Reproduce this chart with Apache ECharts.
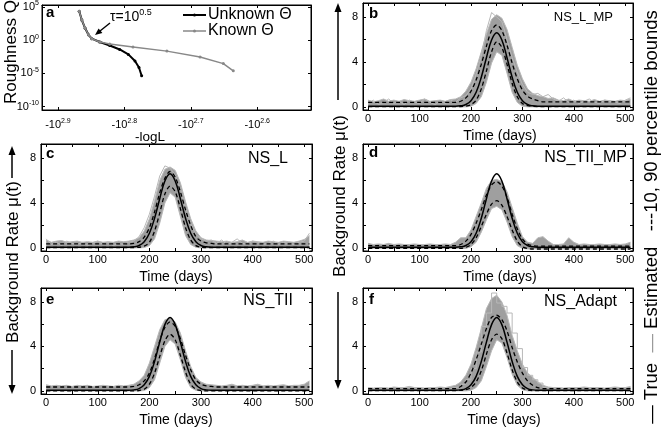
<!DOCTYPE html>
<html><head><meta charset="utf-8">
<script src="https://cdn.jsdelivr.net/npm/echarts@6/dist/echarts.min.js"></script>
<style>html,body{margin:0;padding:0;background:#fff}#c{width:662px;height:431px}</style>
</head><body><div id="c"></div>
<script>
// ---------- Panel a data (x: exponent of -logL, y: log10 roughness Q) ----------
const unkE   = [2.868,2.864,2.859,2.854,2.849,2.837,2.822,2.807,2.794,2.784,2.778,2.774];
const unkQ   = [4.37,3.04,1.8,0.82,0.23,-0.27,-0.8,-1.39,-2.13,-3.12,-4.11,-5.34];
const knownE = [2.868,2.864,2.859,2.854,2.849,2.837,2.822,2.787,2.736,2.686,2.651,2.636];
const knownQ = [4.37,3.04,1.8,0.82,0.23,-0.27,-0.56,-1.01,-1.64,-2.53,-3.52,-4.6];
const aXTicks = [2.6,2.7,2.8,2.9];
const aYTicks = [-10,-5,0,5];

// ---------- Time panels ----------
const days = [0,10,20,30,40,50,60,70,80,90,
  100,110,120,130,140,150,160,170,180,190,
  200,210,220,230,240,250,260,270,280,290,
  300,310,320,330,340,350,360,370,380,390,
  400,410,420,430,440,450,460,470,480,490,
  500,510];
const timeTicks = [0,50,100,150,200,250,300,350,400,450,500];
const timeLabels = [0,100,200,300,400,500];
const rateTicks = [0,2,4,6,8];
const rateLabels = [0,4,8];

const trueR = [0.05,0.05,0.05,0.05,0.05,0.05,0.05,0.05,0.05,0.05,
  0.05,0.05,0.05,0.05,0.05,0.05,0.05,0.05,0.09,0.21,
  0.55,1.3,2.64,4.38,5.96,6.6,5.96,4.38,2.64,1.3,
  0.55,0.21,0.09,0.05,0.05,0.05,0.05,0.05,0.05,0.05,
  0.05,0.05,0.05,0.05,0.05,0.05,0.05,0.05,0.05,0.05,
  0.05,0.05];
const trueL = [0.05,0.05,0.05,0.05,0.05,0.05,0.05,0.05,0.05,0.05,
  0.05,0.05,0.05,0.05,0.05,0.05,0.05,0.09,0.21,0.55,
  1.3,2.64,4.38,5.96,6.6,5.96,4.38,2.64,1.3,0.55,
  0.21,0.09,0.05,0.05,0.05,0.05,0.05,0.05,0.05,0.05,
  0.05,0.05,0.05,0.05,0.05,0.05,0.05,0.05,0.05,0.05,
  0.05,0.05];

// b NS_L_MP
const bHi = [0.4,0.4,0.4,0.4,0.4,0.4,0.4,0.4,0.4,0.4,
  0.4,0.4,0.4,0.4,0.4,0.4,0.4,0.4,0.5,0.8,
  1.4,2.4,3.8,5.4,6.8,7.3,6.8,5.5,3.9,2.5,
  1.5,0.95,0.7,0.55,0.45,0.45,0.45,0.45,0.45,0.45,
  0.45,0.45,0.45,0.45,0.45,0.45,0.45,0.45,0.45,0.45,
  0.45,0.45];
const bLo = [0.02,0.02,0.02,0.02,0.02,0.02,0.02,0.02,0.02,0.02,
  0.02,0.02,0.02,0.02,0.02,0.02,0.02,0.02,0.03,0.06,
  0.2,0.6,1.6,3.2,4.9,5.8,5.3,3.8,2.1,0.9,
  0.3,0.1,0.04,0.02,0.02,0.02,0.02,0.02,0.02,0.02,
  0.02,0.02,0.02,0.02,0.02,0.02,0.02,0.02,0.02,0.02,
  0.02,0.02];
const bBandHi = [0.6,0.45,0.55,0.7,0.5,0.6,0.5,0.65,0.55,0.5,
  0.6,0.7,0.5,0.55,0.6,0.5,0.65,0.7,0.9,1.4,
  2.2,3.4,4.9,6.5,7.8,8.2,7.9,6.9,5.3,3.7,
  2.5,1.6,1.2,1.0,0.9,0.75,0.8,0.6,0.55,0.7,
  0.5,0.6,0.55,0.5,0.65,0.5,0.6,0.55,0.5,0.6,
  0.55,0.7];
const bBandLo = [0,0,0,0,0,0,0,0,0,0,
  0,0,0,0,0,0,0,0,0,0,
  0.05,0.3,0.9,2.2,3.9,4.9,4.6,3.0,1.3,0.4,
  0.05,0,0,0,0,0,0,0,0,0,
  0,0,0,0,0,0,0,0,0,0,
  0,0];
const bOut = [0.3,0.6,0.2,0.4,0.7,0.3,0.5,0.2,0.6,0.4,
  0.3,0.7,0.4,0.2,0.5,0.3,0.6,0.4,0.8,1.0,
  1.6,2.9,4.5,6.8,8.4,8.0,7.6,6.0,4.4,3.1,
  2.0,1.3,1.1,1.2,0.9,1.1,0.7,0.5,0.8,0.4,
  0.6,0.3,0.5,0.7,0.4,0.3,0.6,0.5,0.4,0.3,
  0.6,0.8];

// c NS_L
const cHi = [0.35,0.35,0.35,0.35,0.35,0.35,0.35,0.35,0.35,0.35,
  0.35,0.35,0.35,0.35,0.35,0.35,0.35,0.4,0.55,0.95,
  1.8,3.2,4.9,6.2,6.8,6.3,5.0,3.4,2.0,1.0,
  0.6,0.45,0.4,0.35,0.35,0.35,0.35,0.35,0.35,0.35,
  0.35,0.35,0.35,0.35,0.35,0.35,0.35,0.35,0.35,0.35,
  0.35,0.35];
const cLo = [0.03,0.03,0.03,0.03,0.03,0.03,0.03,0.03,0.03,0.03,
  0.03,0.03,0.03,0.03,0.03,0.03,0.03,0.03,0.05,0.15,
  0.5,1.5,3.1,4.8,5.5,5.0,3.5,1.8,0.7,0.2,
  0.06,0.03,0.03,0.03,0.03,0.03,0.03,0.03,0.03,0.03,
  0.03,0.03,0.03,0.03,0.03,0.03,0.03,0.03,0.03,0.03,
  0.03,0.03];
const cBandHi = [0.7,0.5,0.6,0.65,0.5,0.55,0.6,0.5,0.55,0.5,
  0.6,0.5,0.55,0.5,0.6,0.55,0.6,0.7,0.9,1.5,
  2.6,4.2,6.0,7.0,7.2,6.9,5.8,4.1,2.6,1.5,
  0.9,0.7,0.65,0.6,0.55,0.6,0.5,0.55,0.7,0.5,
  0.6,0.55,0.5,0.6,0.55,0.5,0.6,0.55,0.5,0.6,
  0.75,1.1];
const cBandLo = [0,0,0,0,0,0,0,0,0,0,
  0,0,0,0,0,0,0,0,0,0.03,
  0.2,0.8,2.2,4.0,4.9,4.5,2.8,1.1,0.3,0.05,
  0,0,0,0,0,0,0,0,0,0,
  0,0,0,0,0,0,0,0,0,0,
  0,0];
const cOut = [0.8,0.3,0.5,0.2,0.6,0.4,0.3,0.5,0.2,0.4,
  0.6,0.3,0.5,0.2,0.4,0.3,0.5,0.6,1.0,1.8,
  3.0,4.6,6.4,7.3,7.1,6.5,5.3,3.6,2.2,1.2,
  0.8,0.6,0.7,0.4,0.7,0.3,0.5,0.8,0.4,0.3,
  0.6,0.5,0.3,0.4,0.6,0.3,0.5,0.4,0.3,0.5,
  0.6,1.3];

// d NS_TII_MP
const dHi = [0.2,0.2,0.2,0.2,0.2,0.2,0.2,0.2,0.2,0.2,
  0.2,0.2,0.2,0.2,0.2,0.2,0.2,0.2,0.3,0.6,
  1.2,2.2,3.4,4.7,5.6,5.9,5.5,4.5,3.0,1.7,
  0.8,0.35,0.2,0.15,0.15,0.15,0.15,0.15,0.15,0.15,
  0.15,0.15,0.15,0.15,0.15,0.15,0.15,0.15,0.15,0.15,
  0.15,0.15];
const dLo = [-0.05,-0.05,-0.05,-0.05,-0.05,-0.05,-0.05,-0.05,-0.05,-0.05,
  -0.05,-0.05,-0.05,-0.05,-0.05,-0.05,-0.05,-0.05,-0.05,0.05,
  0.3,0.9,1.9,3.0,3.9,4.2,3.8,2.8,1.6,0.6,
  0.1,-0.05,-0.1,-0.1,-0.1,-0.1,-0.1,-0.1,-0.1,-0.1,
  -0.1,-0.1,-0.1,-0.1,-0.1,-0.1,-0.1,-0.1,-0.1,-0.1,
  -0.1,-0.1];
const dBandHi = [0.4,0.3,0.35,0.3,0.4,0.3,0.35,0.3,0.3,0.35,
  0.3,0.3,0.35,0.3,0.3,0.35,0.3,0.5,0.9,0.9,
  1.6,2.8,4.0,5.3,6.0,6.1,5.9,5.0,3.6,2.2,
  1.0,0.5,0.4,0.9,1.0,0.6,0.3,0.3,0.35,0.9,
  0.5,0.3,0.35,0.3,0.3,0.35,0.3,0.3,0.35,0.3,
  0.35,0.5];
const dBandLo = [-0.05,-0.05,-0.05,-0.05,-0.05,-0.05,-0.05,-0.05,-0.05,-0.05,
  -0.05,-0.05,-0.05,-0.05,-0.05,-0.05,-0.05,-0.05,-0.05,-0.05,
  0.1,0.5,1.4,2.5,3.5,3.7,3.4,2.3,1.0,0.2,
  -0.05,-0.1,-0.1,-0.1,-0.1,-0.1,-0.1,-0.1,-0.1,-0.1,
  -0.1,-0.1,-0.1,-0.1,-0.1,-0.1,-0.1,-0.1,-0.1,-0.1,
  -0.1,-0.1];

// e NS_TII
const eHi = [0.35,0.35,0.35,0.35,0.35,0.35,0.35,0.35,0.35,0.35,
  0.35,0.35,0.35,0.35,0.35,0.35,0.35,0.4,0.55,0.9,
  1.6,2.9,4.5,5.7,6.2,5.8,4.7,3.2,1.9,1.0,
  0.6,0.45,0.4,0.35,0.35,0.35,0.35,0.35,0.35,0.35,
  0.35,0.35,0.35,0.35,0.35,0.35,0.35,0.35,0.35,0.35,
  0.35,0.35];
const eLo = [0,0,0,0,0,0,0,0,0,0,
  0,0,0,0,0,0,0,0,0.03,0.15,
  0.6,1.6,3.1,4.5,5.1,4.6,3.2,1.7,0.6,0.15,
  0.03,0,0,0,0,0,0,0,0,0,
  0,0,0,0,0,0,0,0,0,0,
  0,0];
const eBandHi = [0.55,0.45,0.5,0.45,0.5,0.4,0.5,0.45,0.5,0.4,
  0.45,0.5,0.45,0.4,0.5,0.45,0.5,0.6,0.9,1.4,
  2.5,4.0,5.5,6.4,6.5,6.2,5.2,3.6,2.2,1.2,
  0.8,0.6,0.55,0.5,0.45,0.5,0.6,0.45,0.5,0.45,
  0.5,0.6,0.45,0.5,0.45,0.5,0.55,0.45,0.5,0.5,
  0.6,0.9];
const eBandLo = [0,0,0,0,0,0,0,0,0,0,
  0,0,0,0,0,0,0,0,0,0.03,
  0.3,1.0,2.5,4.0,4.6,4.2,2.8,1.2,0.3,0.05,
  0,0,0,0,0,0,0,0,0,0,
  0,0,0,0,0,0,0,0,0,0,
  0,0];

// f NS_Adapt
const fHi = [0.2,0.2,0.2,0.2,0.2,0.2,0.2,0.2,0.2,0.2,
  0.2,0.2,0.2,0.2,0.2,0.2,0.2,0.2,0.4,0.8,
  1.6,2.8,4.2,5.6,6.6,6.8,6.4,5.4,3.9,2.6,
  1.6,0.9,0.5,0.3,0.2,0.2,0.2,0.2,0.2,0.2,
  0.2,0.2,0.2,0.2,0.2,0.2,0.2,0.2,0.2,0.2,
  0.2,0.2];
const fLo = [0.03,0.03,0.03,0.03,0.03,0.03,0.03,0.03,0.03,0.03,
  0.03,0.03,0.03,0.03,0.03,0.03,0.03,0.03,0.05,0.1,
  0.3,0.8,1.8,3.3,4.6,5.1,4.7,3.4,1.9,0.8,
  0.25,0.08,0.03,0.03,0.03,0.03,0.03,0.03,0.03,0.03,
  0.03,0.03,0.03,0.03,0.03,0.03,0.03,0.03,0.03,0.03,
  0.03,0.03];
const fBandHi = [0.3,0.25,0.3,0.3,0.25,0.35,0.3,0.3,0.4,0.3,
  0.3,0.25,0.3,0.3,0.35,0.3,0.4,0.5,0.8,1.4,
  2.4,3.9,5.6,7.4,8.3,8.6,8.0,6.8,5.0,3.6,
  2.4,1.6,1.2,0.8,0.5,0.35,0.3,0.3,0.25,0.3,
  0.3,0.3,0.35,0.3,0.3,0.3,0.25,0.3,0.35,0.3,
  0.3,0.4];
const fBandLo = [0,0,0,0,0,0,0,0,0,0,
  0,0,0,0,0,0,0,0,0,0,
  0.05,0.3,0.9,2.2,3.6,4.6,4.3,3.0,1.5,0.5,
  0.1,0,0,0,0,0,0,0,0,0,
  0,0,0,0,0,0,0,0,0,0,
  0,0];
const fOut = [0.2,0.1,0.2,0.15,0.1,0.2,0.1,0.3,0.2,0.1,
  0.2,0.1,0.15,0.2,0.1,0.2,0.3,0.4,0.6,1.0,
  2.0,3.5,5.8,7.0,8.8,7.9,7.6,7.0,5.2,3.8,
  2.1,1.4,1.0,0.7,0.3,0.2,0.1,0.2,0.15,0.1,
  0.2,0.1,0.2,0.15,0.1,0.2,0.1,0.2,0.1,0.15,
  0.2,0.3];

// ---------- Build chart ----------
const FONT = '"Liberation Sans", Arial, Helvetica, sans-serif';
const BAND = '#9f9f9f', OUT = '#b8b8b8';

const grids = [
  {left:42, top:3, width:269, height:107},
  {left:363, top:3, width:270, height:107},
  {left:41, top:144, width:271, height:107},
  {left:363, top:144, width:270, height:107},
  {left:41, top:288, width:271, height:106},
  {left:363, top:288, width:270, height:106}
].map(g => Object.assign({show:true, borderColor:'#000', borderWidth:1, backgroundColor:'#fff', containLabel:false}, g));

const pair = (xs, ys) => xs.map((x, i) => [x, ys[i]]);

const baseLine = {show:true, onZero:false, lineStyle:{color:'#000', width:1}};
const xAxes = [], yAxes = [];

const supRich = {
  b:{fontSize:11, fontFamily:FONT, color:'#000', lineHeight:14},
  s:{fontSize:7, fontFamily:FONT, color:'#000', verticalAlign:'top', lineHeight:14}
};
xAxes.push({gridIndex:0, type:'value', inverse:true, min:2.519, max:2.924, position:'bottom', z:10,
  axisLine:baseLine, splitLine:{show:false},
  axisTick:{inside:true, length:3, customValues:aXTicks, lineStyle:{color:'#000'}},
  axisLabel:{customValues:aXTicks, margin:8, formatter:v => '{b|-10}{s|' + v.toFixed(1) + '}', rich:supRich}});
xAxes.push({gridIndex:0, type:'value', inverse:true, min:2.519, max:2.924, position:'top', z:10,
  axisLine:baseLine, splitLine:{show:false},
  axisTick:{inside:true, length:3, customValues:aXTicks, lineStyle:{color:'#000'}},
  axisLabel:{show:false}});
yAxes.push({gridIndex:0, type:'value', min:-10.5, max:5.3, position:'left', z:10,
  axisLine:baseLine, splitLine:{show:false},
  axisTick:{inside:true, length:3, customValues:aYTicks, lineStyle:{color:'#000'}},
  axisLabel:{customValues:aYTicks, margin:3, formatter:v => '{b|10}{s|' + v + '}', rich:supRich}});
yAxes.push({gridIndex:0, type:'value', min:-10.5, max:5.3, position:'right', z:10,
  axisLine:baseLine, splitLine:{show:false},
  axisTick:{inside:true, length:3, customValues:aYTicks, lineStyle:{color:'#000'}},
  axisLabel:{show:false}});

for (let g = 1; g <= 5; g++) {
  ['bottom','top'].forEach(pos => xAxes.push({gridIndex:g, type:'value', min:-10, max:515, position:pos, z:10,
    axisLine:baseLine, splitLine:{show:false},
    axisTick:{inside:true, length:3, customValues:timeTicks, lineStyle:{color:'#000'}},
    axisLabel:{show:pos === 'bottom', customValues:timeLabels, margin:3, fontSize:11, fontFamily:FONT, color:'#000'}}));
  ['left','right'].forEach(pos => yAxes.push({gridIndex:g, type:'value', min:-0.28, max:9.25, position:pos, z:10,
    axisLine:baseLine, splitLine:{show:false},
    axisTick:{inside:true, length:3, customValues:rateTicks, lineStyle:{color:'#000'}},
    axisLabel:{show:pos === 'left', customValues:rateLabels, margin:5, fontSize:11, fontFamily:FONT, color:'#000'}}));
}

const series = [];
series.push({type:'line', xAxisIndex:0, yAxisIndex:0, data:pair(unkE, unkQ), symbol:'circle', symbolSize:3,
  showAllSymbol:true, itemStyle:{color:'#000'}, lineStyle:{color:'#000', width:2}, z:3});
series.push({type:'line', xAxisIndex:0, yAxisIndex:0, data:pair(knownE, knownQ), symbol:'circle', symbolSize:3,
  showAllSymbol:true, itemStyle:{color:'#888'}, lineStyle:{color:'#888', width:1.5}, z:4});

const panels = [
  {g:1, tr:trueR, hi:bHi, lo:bLo, bh:bBandHi, bl:bBandLo, out:bOut},
  {g:2, tr:trueL, hi:cHi, lo:cLo, bh:cBandHi, bl:cBandLo, out:cOut},
  {g:3, tr:trueR, hi:dHi, lo:dLo, bh:dBandHi, bl:dBandLo, out:null},
  {g:4, tr:trueL, hi:eHi, lo:eLo, bh:eBandHi, bl:eBandLo, out:null},
  {g:5, tr:trueR, hi:fHi, lo:fLo, bh:fBandHi, bl:fBandLo, out:fOut, outStep:'end'}
];
panels.forEach(p => {
  const xi = p.g * 2, yi = p.g * 2;
  const common = {type:'line', xAxisIndex:xi, yAxisIndex:yi, symbol:'none', silent:true, animation:false};
  series.push(Object.assign({}, common, {data:pair(days, p.bh),
    lineStyle:{color:OUT, width:1}, areaStyle:{color:BAND, opacity:1, origin:'start'}, z:1}));
  series.push(Object.assign({}, common, {data:pair(days, p.bl),
    lineStyle:{color:OUT, width:1}, areaStyle:{color:'#fff', opacity:1, origin:'start'}, z:2}));
  if (p.out) series.push(Object.assign({}, common, {data:pair(days, p.out), step:p.outStep || false,
    lineStyle:{color:OUT, width:1}, z:3}));
  series.push(Object.assign({}, common, {data:pair(days, p.hi), smooth:0.3,
    lineStyle:{color:'#000', width:1.3, type:[4,3]}, z:4}));
  series.push(Object.assign({}, common, {data:pair(days, p.lo), smooth:0.3,
    lineStyle:{color:'#000', width:1.3, type:[4,3]}, z:4}));
  series.push(Object.assign({}, common, {data:pair(days, p.tr), smooth:0.4,
    lineStyle:{color:'#000', width:1.5}, z:5}));
});

// ---------- graphics ----------
const T = (x, y, text, size, o = {}) => ({type:'text', x, y, rotation:o.rot || 0, z:100,
  style:{text, fontSize:size, fontFamily:FONT, fontWeight:o.bold ? 'bold' : 'normal', fill:o.fill || '#000',
    align:o.align || 'left', verticalAlign:o.va || 'middle', rich:o.rich}});
const arrow = (x, y1, y2) => {
  const dir = y2 > y1 ? 1 : -1;
  return [
    {type:'line', z:100, shape:{x1:x, y1:y1, x2:x, y2:y2 - dir * 6}, style:{stroke:'#000', lineWidth:1.5}},
    {type:'polygon', z:100, shape:{points:[[x, y2], [x - 3.5, y2 - dir * 9], [x + 3.5, y2 - dir * 9]]}, style:{fill:'#000'}}
  ];
};

const graphic = [
  T(46, 13, 'a', 15, {bold:true}), T(369, 14, 'b', 15, {bold:true}),
  T(46, 154, 'c', 15, {bold:true}), T(369, 153, 'd', 15, {bold:true}),
  T(46, 300, 'e', 15, {bold:true}), T(369, 300, 'f', 15, {bold:true}),
  T(613, 17, 'NS_L_MP', 13, {align:'right'}),
  T(288, 159, 'NS_L', 16, {align:'right'}),
  T(627, 158, 'NS_TII_MP', 16, {align:'right'}),
  T(293, 301, 'NS_TII', 16, {align:'right'}),
  T(617, 302, 'NS_Adapt', 16, {align:'right'}),
  T(150, 137, '-logL', 13.5, {align:'center'}),
  T(500, 136, 'Time (days)', 14, {align:'center'}),
  T(176, 277, 'Time (days)', 14, {align:'center'}),
  T(500, 277, 'Time (days)', 14, {align:'center'}),
  T(176, 420, 'Time (days)', 14, {align:'center'}),
  T(504, 420, 'Time (days)', 14, {align:'center'}),
  T(11, 52, 'Roughness Q', 17, {align:'center', rot:Math.PI / 2}),
  T(13, 262, 'Background Rate μ(t)', 17, {align:'center', rot:Math.PI / 2}),
  T(340, 196, 'Background Rate μ(t)', 17, {align:'center', rot:Math.PI / 2}),
  T(652, 217, '{k|—} True  {g|—} Estimated   ---10, 90 percentile bounds', 18.5,
    {align:'center', rot:Math.PI / 2, rich:{k:{fill:'#000', fontSize:18.5, fontFamily:FONT}, g:{fill:'#9a9a9a', fontSize:18.5, fontFamily:FONT}}}),
  {type:'line', z:100, shape:{x1:183, y1:15, x2:206, y2:15}, style:{stroke:'#000', lineWidth:2}},
  {type:'circle', z:100, shape:{cx:194.5, cy:15, r:1.5}, style:{fill:'#000'}},
  T(208, 15, 'Unknown Θ', 16),
  {type:'line', z:100, shape:{x1:183, y1:31, x2:206, y2:31}, style:{stroke:'#888', lineWidth:1.5}},
  {type:'circle', z:100, shape:{cx:194.5, cy:31, r:1.5}, style:{fill:'#888'}},
  T(208, 31, 'Known Θ', 16),
  T(110, 17, '{a|τ=10}{s|0.5}', 14, {rich:{a:{fontSize:14, fontFamily:FONT, lineHeight:18}, s:{fontSize:9, fontFamily:FONT, verticalAlign:'top', lineHeight:18}}}),
  {type:'line', z:100, shape:{x1:110, y1:23, x2:100, y2:31}, style:{stroke:'#000', lineWidth:1.5}},
  {type:'polygon', z:100, shape:{points:[[95, 35], [102.4, 33.0], [98.6, 28.4]]}, style:{fill:'#000'}}
].concat(arrow(12, 178, 146), arrow(12, 350, 394), arrow(338, 100, 3), arrow(338, 292, 389));

const chart = echarts.init(document.getElementById('c'), null, {renderer:'canvas'});
chart.setOption({
  animation:false,
  backgroundColor:'#fff',
  textStyle:{fontFamily:FONT},
  grid:grids, xAxis:xAxes, yAxis:yAxes, series, graphic
});
</script></body></html>
